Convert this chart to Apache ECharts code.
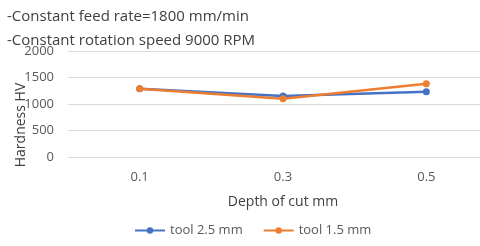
<!DOCTYPE html>
<html><head><meta charset="utf-8">
<script src="https://cdn.jsdelivr.net/npm/echarts@6/dist/echarts.min.js"></script>
<style>html,body{margin:0;padding:0;background:#fff}#c{width:480px;height:246px}</style>
</head><body><div id="c"></div>
<script>
const categories = ['0.1', '0.3', '0.5'];
const tool25 = [1290, 1150, 1230];
const tool15 = [1290, 1100, 1380];
const yTicks = [0, 500, 1000, 1500, 2000];
const titleLines = ['-Constant feed rate=1800 mm/min', '-Constant rotation speed 9000 RPM'];

const font = '"Open Sans", "Noto Sans", sans-serif';
const chart = echarts.init(document.getElementById('c'));
chart.setOption({
  animation: false,
  textStyle: { fontFamily: font },
  title: [
    { text: titleLines[0], left: 2, top: 4, textStyle: { fontSize: 15, fontWeight: 'normal', color: '#404040', fontFamily: font } },
    { text: titleLines[1], left: 2, top: 28, textStyle: { fontSize: 15, fontWeight: 'normal', color: '#404040', fontFamily: font } }
  ],
  grid: { left: 68, top: 51, width: 430, height: 106, outerBoundsMode: 'none', containLabel: false },
  xAxis: {
    type: 'category', data: categories, boundaryGap: true,
    axisLine: { show: false }, axisTick: { show: false },
    axisLabel: { color: '#595959', fontSize: 13, margin: 14 },
    name: 'Depth of cut mm', nameLocation: 'middle', nameGap: 38,
    nameTextStyle: { color: '#404040', fontSize: 14 }
  },
  yAxis: {
    type: 'value', min: yTicks[0], max: yTicks[yTicks.length - 1], interval: 500,
    axisLine: { show: false }, axisTick: { show: false },
    axisLabel: { color: '#595959', fontSize: 13, margin: 14, formatter: v => String(v) },
    splitLine: { lineStyle: { color: '#d9d9d9', width: 1 } },
    name: 'Hardness HV', nameLocation: 'middle', nameGap: 40, nameRotate: 90,
    nameMoveOverlap: false,
    nameTextStyle: { color: '#404040', fontSize: 14, padding: [0, 42, 0, 0] }
  },
  legend: {
    bottom: 4, left: 129, itemWidth: 30, itemHeight: 8, itemGap: 20,
    textStyle: { color: '#595959', fontSize: 13 },
    data: ['tool 2.5 mm', 'tool 1.5 mm']
  },
  series: [
    { name: 'tool 2.5 mm', type: 'line', data: tool25, symbol: 'circle', symbolSize: 7,
      itemStyle: { color: '#4472C4' }, lineStyle: { color: '#4472C4', width: 2.5 } },
    { name: 'tool 1.5 mm', type: 'line', data: tool15, symbol: 'circle', symbolSize: 7,
      itemStyle: { color: '#ED7D31' }, lineStyle: { color: '#ED7D31', width: 2.5 } }
  ]
});
</script></body></html>
